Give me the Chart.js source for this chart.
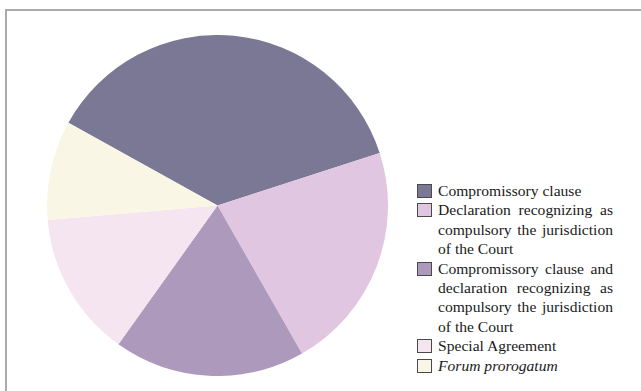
<!DOCTYPE html>
<html>
<head>
<meta charset="utf-8">
<script src="https://cdn.jsdelivr.net/npm/chart.js@4.4.1/dist/chart.umd.min.js"></script>
<style>
  html, body { margin: 0; padding: 0; background: #fff; width: 641px; height: 391px; overflow: hidden; }
  .frame { position: absolute; left: 5px; top: 9px; width: 720px; height: 440px; border: 2px solid #ababab; box-sizing: border-box; }
  #pie-wrap { position: absolute; left: 47px; top: 35px; width: 341px; height: 341px; }
  #legend { position: absolute; left: 417px; top: 181px; width: 196px; font-family: "Liberation Serif", "DejaVu Serif", serif; font-size: 15.6px; color: #1a1a1a; }
  #legend .item { display: flex; align-items: flex-start; }
  #legend .box { flex: none; width: 13px; height: 12px; margin-top: 3px; margin-right: 6px; border: 1px solid #4a4a4a; }
  #legend .text { flex: 1; }
  #legend .line { line-height: 19.4px; height: 19.4px; text-align: justify; text-align-last: justify; white-space: nowrap; }
  #legend .line.last { text-align-last: left; }
  #legend .italic { font-style: italic; }
</style>
</head>
<body>
<div class="frame"></div>
<div id="pie-wrap"><canvas id="pie" width="341" height="341"></canvas></div>
<div id="legend"></div>
<script>
// Basis of jurisdiction, number of cases
const categories = [
  ['Compromissory clause'],
  ['Declaration recognizing as', 'compulsory the jurisdiction', 'of the Court'],
  ['Compromissory clause and', 'declaration recognizing as', 'compulsory the jurisdiction', 'of the Court'],
  ['Special Agreement'],
  ['Forum prorogatum']
];
const caseCounts = [51, 30, 25, 19, 13];
const sliceColors = ['#7b7895', '#e0c6e0', '#ad99bc', '#f4e5f0', '#faf6e6'];
const italicLabels = ['Forum prorogatum'];

// builds the legend as html so long labels can wrap and justify
const htmlLegend = {
  id: 'htmlLegend',
  afterUpdate(chart) {
    const el = document.getElementById('legend');
    el.innerHTML = '';
    const items = chart.options.plugins.legend.labels.generateLabels(chart);
    items.forEach((item) => {
      const lines = chart.data.labels[item.index];
      const row = document.createElement('div');
      row.className = 'item';
      const box = document.createElement('span');
      box.className = 'box';
      box.style.background = item.fillStyle;
      const text = document.createElement('div');
      text.className = 'text';
      lines.forEach((ln, i) => {
        const d = document.createElement('div');
        d.className = 'line' + (i === lines.length - 1 ? ' last' : '');
        if (italicLabels.includes(ln)) d.classList.add('italic');
        d.textContent = ln;
        text.appendChild(d);
      });
      row.appendChild(box);
      row.appendChild(text);
      el.appendChild(row);
    });
  }
};

new Chart(document.getElementById('pie'), {
  type: 'pie',
  data: {
    labels: categories,
    datasets: [{
      data: caseCounts,
      backgroundColor: sliceColors,
      borderWidth: 0
    }]
  },
  options: {
    responsive: false,
    animation: false,
    rotation: -61,
    layout: { padding: 0 },
    plugins: {
      legend: { display: false },
      tooltip: { enabled: false }
    }
  },
  plugins: [htmlLegend]
});
</script>
</body>
</html>
